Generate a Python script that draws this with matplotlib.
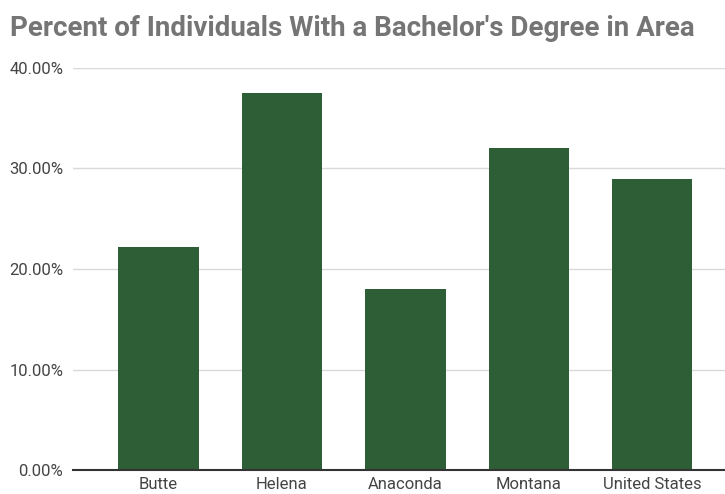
import matplotlib.pyplot as plt
from matplotlib.ticker import FuncFormatter

areas = ["Butte", "Helena", "Anaconda", "Montana", "United States"]
pct_bachelors = [22.2, 37.5, 18.0, 32.0, 29.0]
y_ticks = [0, 10, 20, 30, 40]

BAR_COLOR = "#2d5e35"

plt.rcParams["font.family"] = ["Roboto", "DejaVu Sans"]

fig = plt.figure(figsize=(7.25, 4.94), dpi=100)
ax = fig.add_axes([73 / 725, 1 - 470 / 494, 652 / 725, (470 - 68) / 494])

x = list(range(len(areas)))
ax.bar(x, pct_bachelors, width=0.652, color=BAR_COLOR, zorder=3)

ax.set_ylim(0, 40)
ax.set_xlim(-0.693, 4.59)
ax.set_yticks(y_ticks)
ax.yaxis.set_major_formatter(FuncFormatter(lambda v, _: f"{v:.2f}%"))
ax.set_xticks(x)
ax.set_xticklabels(areas)

ax.grid(axis="y", color="#d9d9d9", linewidth=1, zorder=0)
for side in ["top", "right", "left"]:
    ax.spines[side].set_visible(False)
ax.spines["bottom"].set_color("#333333")
ax.spines["bottom"].set_linewidth(1.5)
ax.spines["bottom"].set_zorder(4)

ax.tick_params(axis="both", length=0, labelsize=12, labelcolor="#444444")
ax.tick_params(axis="y", pad=7)
ax.tick_params(axis="x", pad=5)

fig.text(10 / 725, 1 - 28 / 494, "Percent of Individuals With a Bachelor's Degree in Area",
         fontsize=20, fontweight="bold", color="#757575", va="center", ha="left")

fig.savefig("out.png", dpi=100)
